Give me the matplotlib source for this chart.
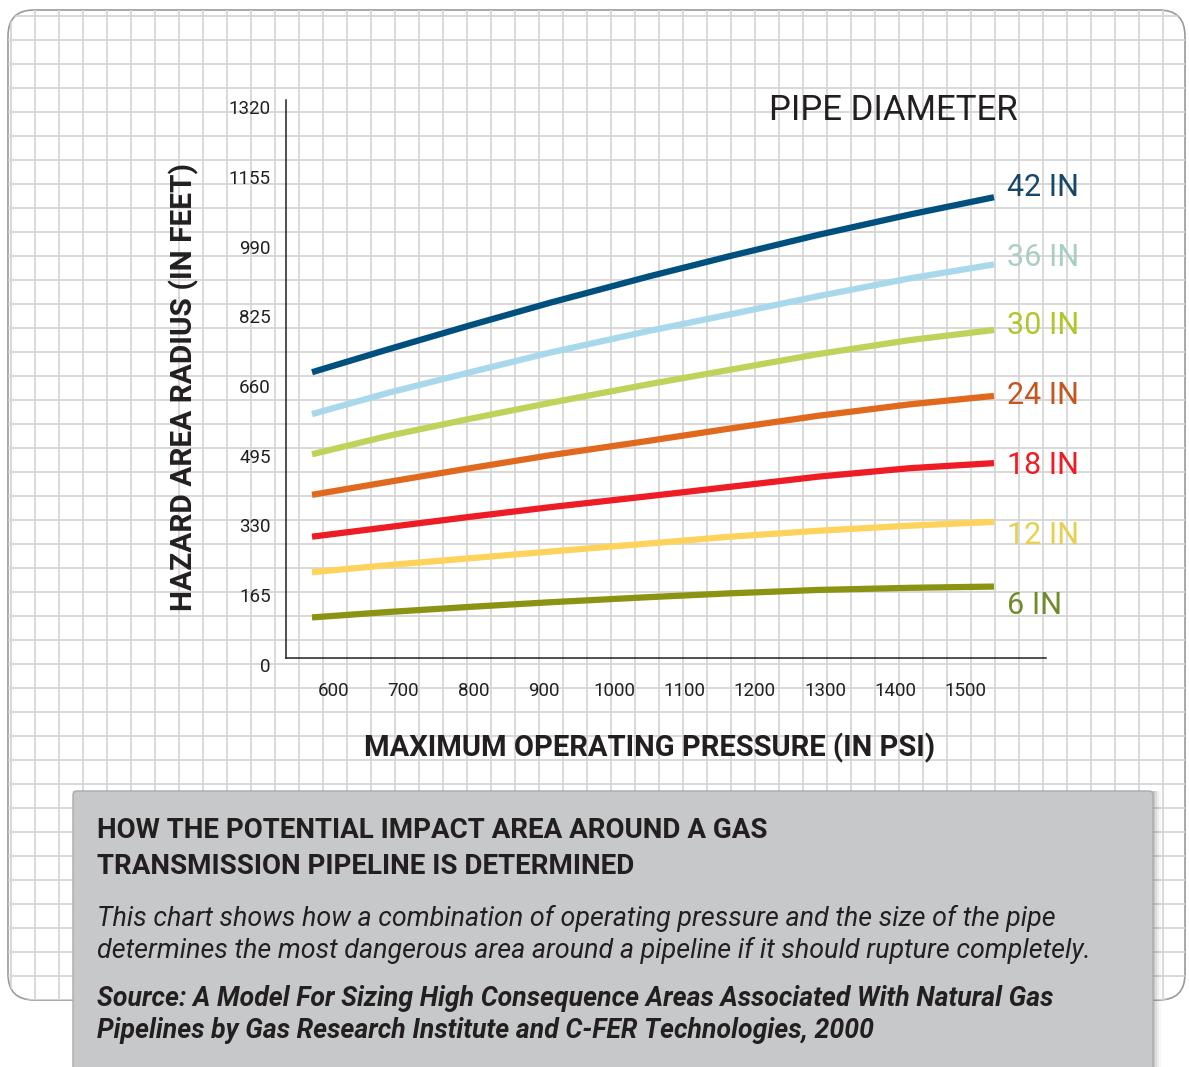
import matplotlib.pyplot as plt
from matplotlib.patches import FancyBboxPatch, Rectangle
from matplotlib.collections import LineCollection
from matplotlib.transforms import ScaledTranslation

plt.rcParams['font.family'] = ['Roboto', 'DejaVu Sans']

# data (psi vs hazard radius in feet)
pressure = [570, 680, 795, 910, 1050, 1165, 1290, 1420, 1540]
radius = {
    '42 IN': [676, 731, 787, 841, 903, 951, 1001, 1049, 1090],
    '36 IN': [577, 628, 676, 723, 774, 813, 856, 898, 931],
    '30 IN': [482, 526, 566, 604, 648, 682, 719, 752, 776],
    '24 IN': [386, 417, 449, 480, 514, 543, 573, 600, 620],
    '18 IN': [287, 310, 334, 357, 383, 405, 429, 449, 461],
    '12 IN': [203, 220, 236, 252, 271, 287, 301, 313, 322],
    '6 IN': [96, 109, 121, 132, 144, 153, 161, 166, 169],
}
line_colors = ['#00507f', '#a8d8ec', '#bdd35a', '#e0691e', '#ee1c25', '#fdd35c', '#8a9412']
label_colors = ['#17466b', '#a9cfc3', '#b2c62c', '#c4561f', '#ee1c25', '#e6cf52', '#6f8b2c']
x_ticks = [600, 700, 800, 900, 1000, 1100, 1200, 1300, 1400, 1500]
y_ticks = [0, 165, 330, 495, 660, 825, 990, 1155, 1320]

ink = '#231f20'
W, H = 1189, 1067
fig = plt.figure(figsize=(W / 100, H / 100), dpi=100)

# background: rounded sheet of graph paper
bg = fig.add_axes([0, 0, 1, 1])
bg.set_xlim(0, W)
bg.set_ylim(H, 0)
bg.axis('off')
sheet = FancyBboxPatch((8, 10), 1177, 990, boxstyle='round,pad=0,rounding_size=26',
                       facecolor='white', edgecolor='#9a9a9a', lw=1.2, zorder=1)
bg.add_patch(sheet)
segs = [[(x, 0), (x, H)] for x in range(11, W, 24)] + [[(0, y), (W, y)] for y in range(16, H, 24)]
grid = LineCollection(segs, colors='#d6d6d6', linewidths=1.3, zorder=2)
bg.add_collection(grid)
grid.set_clip_path(sheet)

# grey caption box with a soft shadow on the right
for i, a in enumerate([0.04, 0.07, 0.1, 0.15]):
    bg.add_patch(Rectangle((73, 791), 1080 + 8 - i * 2, 300, facecolor='#555555', alpha=a,
                           edgecolor='none', zorder=3))
bg.add_patch(FancyBboxPatch((73, 791), 1080, 300, boxstyle='round,pad=0,rounding_size=4',
                            facecolor='#c7c8ca', edgecolor='#a9aaac', lw=1, zorder=4))

bg.text(97, 831, 'HOW THE POTENTIAL IMPACT AREA AROUND A GAS', fontsize=20, fontweight='bold',
        color=ink, va='center', ha='left', zorder=5)
bg.text(97, 867, 'TRANSMISSION PIPELINE IS DETERMINED', fontsize=20, fontweight='bold',
        color=ink, va='center', ha='left', zorder=5)
bg.text(97, 918, 'This chart shows how a combination of operating pressure and the size of the pipe',
        fontsize=19.4, style='italic', color=ink, va='center', ha='left', zorder=5)
bg.text(97, 950, 'determines the most dangerous area around a pipeline if it should rupture completely.',
        fontsize=19.4, style='italic', color=ink, va='center', ha='left', zorder=5)
bg.text(97, 998, 'Source: A Model For Sizing High Consequence Areas Associated With Natural Gas',
        fontsize=19.2, style='italic', fontweight='bold', color=ink, va='center', ha='left', zorder=5)
bg.text(97, 1030, 'Pipelines by Gas Research Institute and C-FER Technologies, 2000',
        fontsize=19.2, style='italic', fontweight='bold', color=ink, va='center', ha='left', zorder=5)

# chart axes
ax = fig.add_axes([286 / W, 1 - 658 / H, 760 / W, 558 / H])
ax.patch.set_alpha(0)
ax.set_xlim(533, 1614)
ax.set_ylim(0, 1320)
for s in ['top', 'right']:
    ax.spines[s].set_visible(False)
for s in ['left', 'bottom']:
    ax.spines[s].set_color(ink)
    ax.spines[s].set_linewidth(1.1)

for (name, vals), c in zip(radius.items(), line_colors):
    ax.plot(pressure, vals, color=c, lw=4.5, solid_capstyle='butt', solid_joinstyle='round')

ax.set_xticks(x_ticks)
ax.set_xticklabels([str(v) for v in x_ticks])
ax.set_yticks(y_ticks)
ax.set_yticklabels([str(v) for v in y_ticks])
ax.tick_params(length=0, labelsize=13.5, labelcolor=ink)
ax.tick_params(axis='x', pad=17)
ax.tick_params(axis='y', pad=11)
for lab in ax.get_yticklabels():
    lab.set_transform(lab.get_transform() + ScaledTranslation(0, -0.07, fig.dpi_scale_trans))

bg.text(184, 387, 'HAZARD AREA RADIUS (IN FEET)', rotation=90, fontsize=21.5, fontweight='bold',
        color=ink, ha='center', va='center', zorder=5)
bg.text(650, 748, 'MAXIMUM OPERATING PRESSURE (IN PSI)', fontsize=21, fontweight='bold',
        color=ink, ha='center', va='center', zorder=5)
bg.text(769, 111, 'PIPE DIAMETER', fontsize=25, color=ink, ha='left', va='center', zorder=5)

label_y = [188, 258, 326, 396, 466, 535, 605]
for name, c, y in zip(radius.keys(), label_colors, label_y):
    bg.text(1007, y, name, fontsize=22, color=c, ha='left', va='center', zorder=5)

fig.savefig('out.png', dpi=100)
